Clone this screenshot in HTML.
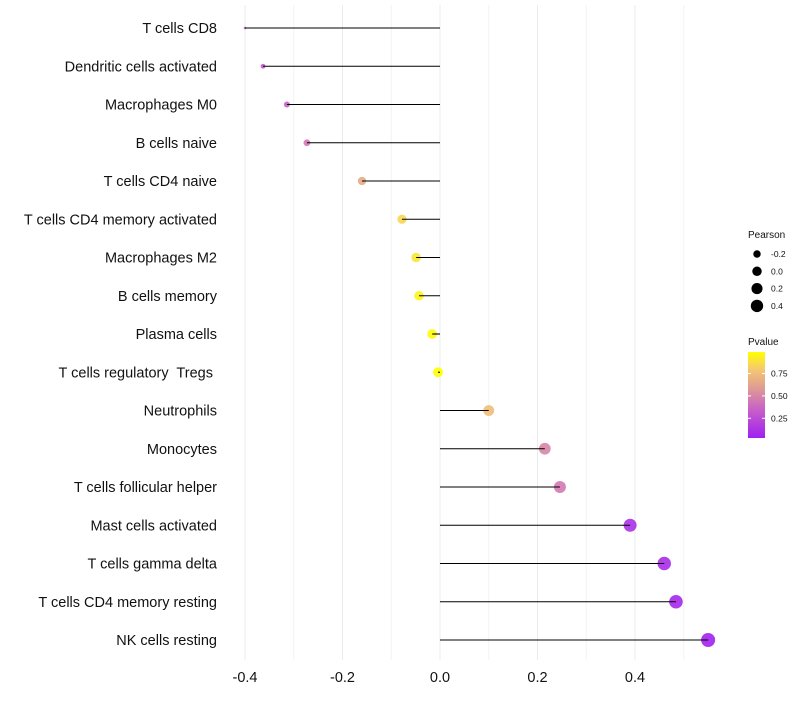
<!DOCTYPE html>
<html><head><meta charset="utf-8"><style>
body{margin:0;background:#fff;font-family:"Liberation Sans",sans-serif}
text{white-space:pre}
</style></head><body>
<svg id="chart" width="800" height="700" xmlns="http://www.w3.org/2000/svg" font-family="Liberation Sans, sans-serif"></svg>
<script>
const categories=["T cells CD8","Dendritic cells activated","Macrophages M0","B cells naive","T cells CD4 naive","T cells CD4 memory activated","Macrophages M2","B cells memory","Plasma cells","T cells regulatory  Tregs ","Neutrophils","Monocytes","T cells follicular helper","Mast cells activated","T cells gamma delta","T cells CD4 memory resting","NK cells resting"];
const pearson=[-0.4,-0.363,-0.314,-0.273,-0.16,-0.078,-0.049,-0.043,-0.016,-0.004,0.10,0.215,0.246,0.39,0.46,0.484,0.55];
const pvalues=[0.3,0.32,0.35,0.45,0.66,0.85,0.9,0.95,0.97,0.99,0.75,0.5,0.45,0.12,0.09,0.07,0.04];
const xTicks=[-0.4,-0.2,0.0,0.2,0.4];
const xTickLabels=["-0.4","-0.2","0.0","0.2","0.4"];
const sizeLegend=[-0.2,0.0,0.2,0.4];
const colorLegend=[0.25,0.5,0.75];

const svg=document.getElementById('chart');
const NS='http://www.w3.org/2000/svg';
function mk(t,a,p){const e=document.createElementNS(NS,t);for(const k in a)e.setAttribute(k,a[k]);(p||svg).appendChild(e);return e;}
const x=v=>440+v*487.5;
const y=i=>28+i*38.25;
const rad=v=>1.3+5.7*Math.sqrt(Math.max(0,(v+0.4)/0.95));
const stops=[[0,[160,32,240]],[0.33,[200,96,200]],[0.6,[224,160,144]],[0.8,[245,200,112]],[1,[255,255,0]]];
function col(p){let t=(p-0.03)/(0.99-0.03);t=Math.max(0,Math.min(1,t));for(let i=1;i<stops.length;i++){if(t<=stops[i][0]){const a=stops[i-1],b=stops[i];const f=(t-a[0])/(b[0]-a[0]);return 'rgb('+a[1].map((c,j)=>Math.round(c+(b[1][j]-c)*f)).join(',')+')';}}return 'rgb(255,255,0)';}

for(let g=-4;g<=5;g++){const l=mk('line',{x1:x(g/10),x2:x(g/10),y1:5,y2:660,stroke:g%2===0?'#ebebeb':'#f3f3f3','stroke-width':1});

}
xTicks.forEach((v,i)=>{const t=mk('text',{x:x(v),y:682,'text-anchor':'middle','font-size':14.5,fill:'#111'});t.textContent=xTickLabels[i];

});
categories.forEach((c,i)=>{
const t=mk('text',{x:217,y:y(i)+5,'text-anchor':'end','font-size':14.5,fill:'#111'});t.textContent=c;


const p=mk('circle',{cx:x(pearson[i]),cy:y(i),r:rad(pearson[i]),fill:col(pvalues[i]),'fill-opacity':0.9});


const l=mk('line',{x1:x(0),x2:x(pearson[i]),y1:y(i),y2:y(i),stroke:'#000','stroke-width':1.1});


});
const st=mk('text',{x:748,y:238,'font-size':10,fill:'#111'});st.textContent='Pearson';


sizeLegend.forEach((v,i)=>{const cy=254+i*17.3;
const c=mk('circle',{cx:757,cy:cy,r:rad(v)*0.95,fill:'#000'});


const t=mk('text',{x:771,y:cy+3,'font-size':8.5,fill:'#111'});t.textContent=v.toFixed(1);

});
const ct=mk('text',{x:748,y:345,'font-size':10,fill:'#111'});ct.textContent='Pvalue';


const defs=mk('defs',{});const lg=mk('linearGradient',{id:'g',x1:0,y1:1,x2:0,y2:0},defs);
stops.forEach(s=>mk('stop',{offset:s[0],'stop-color':'rgb('+s[1].join(',')+')'},lg));
const cb=mk('rect',{x:748,y:352,width:17,height:86,fill:'url(#g)'});


const py=p=>438-(p-0.03)/(0.96)*86;
colorLegend.forEach(p=>{mk('line',{x1:748,x2:751,y1:py(p),y2:py(p),stroke:'#fff'});mk('line',{x1:762,x2:765,y1:py(p),y2:py(p),stroke:'#fff'});
const t=mk('text',{x:771,y:py(p)+3,'font-size':8.5,fill:'#111'});t.textContent=p.toFixed(2);

});
</script>
</body></html>
